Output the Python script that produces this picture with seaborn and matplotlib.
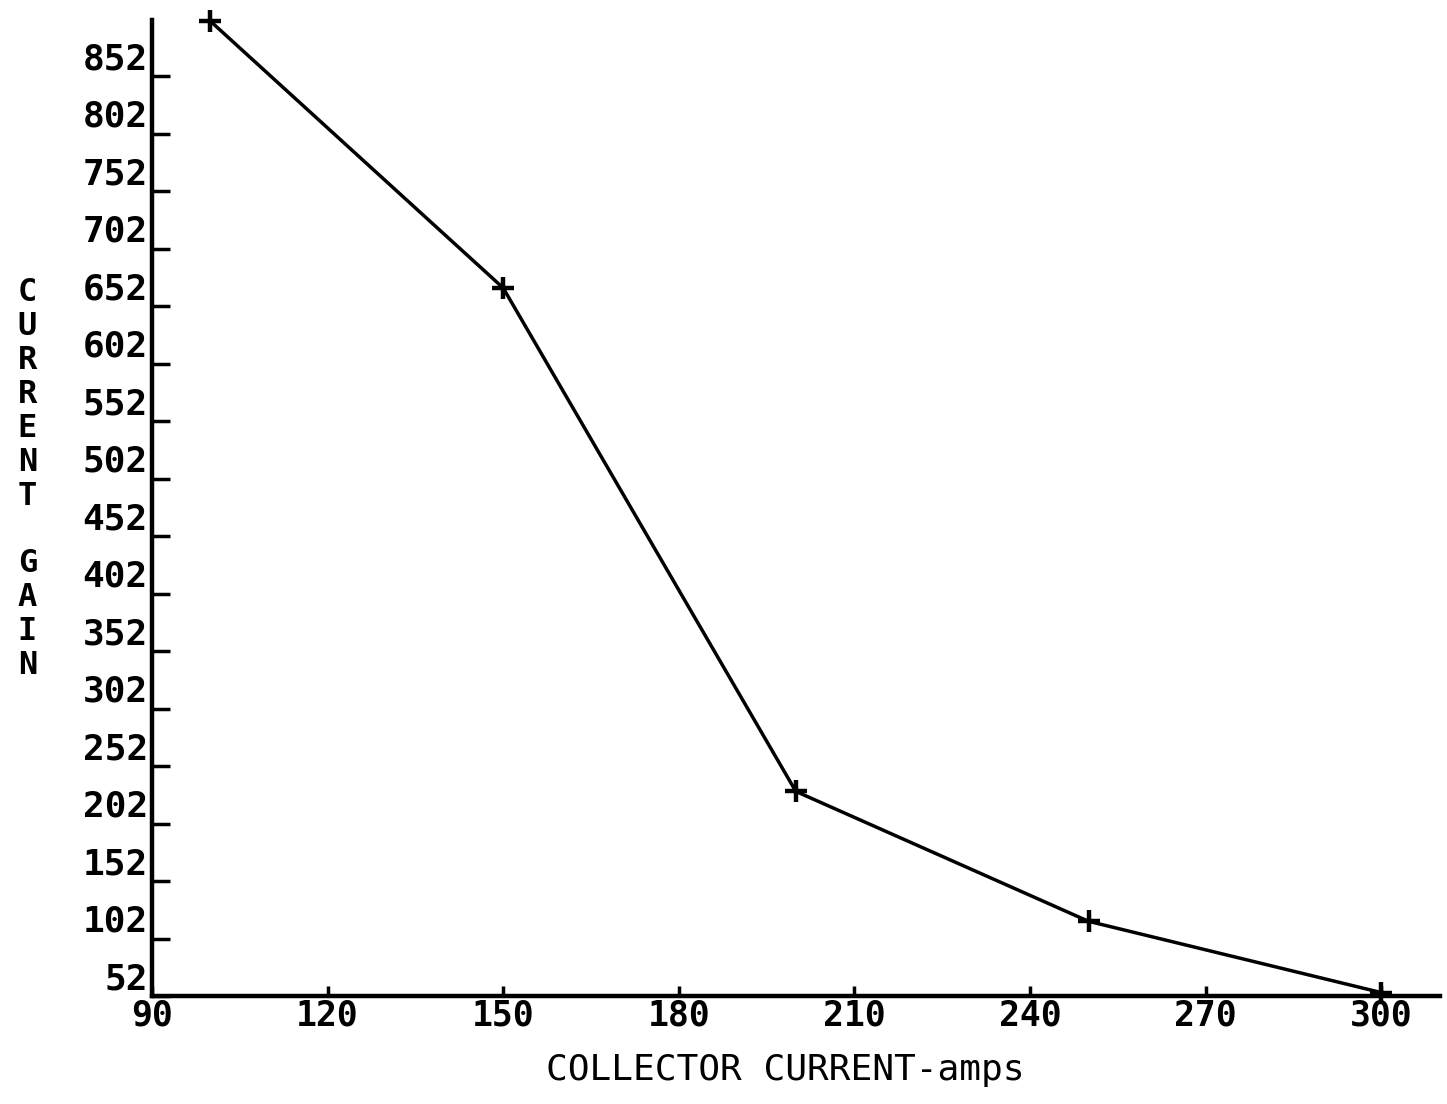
import matplotlib
matplotlib.use("Agg")
import matplotlib.pyplot as plt
import seaborn as sns
import pandas as pd

# Collector current (amps) vs. current gain
collector_current = [100, 150, 200, 250, 300]
current_gain = [900, 668, 230, 117, 55]

x_ticks = [90, 120, 150, 180, 210, 240, 270, 300]
y_ticks = [52, 102, 152, 202, 252, 302, 352, 402, 452, 502,
           552, 602, 652, 702, 752, 802, 852]

df = pd.DataFrame({"current": collector_current, "gain": current_gain})

sns.set_theme(style="white")
plt.rcParams["font.family"] = ["DejaVu Sans Mono", "DejaVu Sans"]

fig = plt.figure(figsize=(14.47, 11.04), dpi=100)
ax = fig.add_axes([0.105, 0.0978, 0.890, 0.884])

sns.lineplot(data=df, x="current", y="gain", ax=ax, color="black",
             linewidth=2.5, marker="+", markersize=16, markeredgewidth=3.2,
             markeredgecolor="black", clip_on=False)

ax.set_xlim(90, 310)
ax.set_ylim(52, 901)

for side in ("top", "right"):
    ax.spines[side].set_visible(False)
for side in ("left", "bottom"):
    ax.spines[side].set_linewidth(3.2)
    ax.spines[side].set_color("black")

ax.set_xticks(x_ticks)
ax.set_xticklabels([str(v) for v in x_ticks], fontsize=25, fontweight="bold")
ax.set_yticks(y_ticks)
ax.set_yticklabels([str(v) for v in y_ticks], fontsize=26, fontweight="bold")
for lab in ax.get_yticklabels():
    lab.set_verticalalignment("bottom")

ax.tick_params(axis="y", direction="in", length=13, width=2.5, pad=3,
               left=True, colors="black")
ax.tick_params(axis="x", direction="in", length=7, width=2.5, pad=2,
               bottom=True, colors="black")

ax.set_xlabel("")
ax.set_ylabel("")

fig.text(0.543, 0.015, "COLLECTOR CURRENT-amps", ha="center", va="bottom",
         fontsize=26, color="black")

ylabel = "\n".join(list("CURRENT") + [" "] + list("GAIN"))
fig.text(0.019, 0.566, ylabel, ha="center", va="center", fontsize=23,
         fontweight="bold", linespacing=1.12, color="black")

fig.savefig("out.png", dpi=100, facecolor="white")
